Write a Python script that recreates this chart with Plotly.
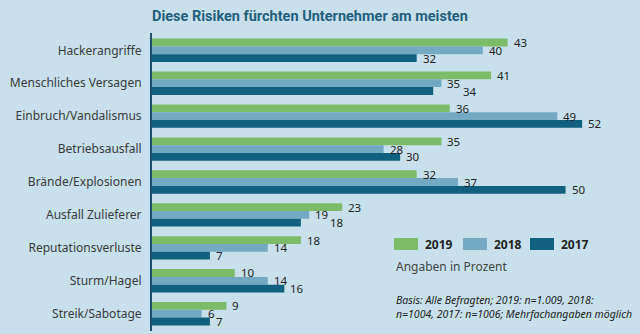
import plotly.graph_objects as go

categories = ["Hackerangriffe", "Menschliches Versagen", "Einbruch/Vandalismus",
              "Betriebsausfall", "Brände/Explosionen", "Ausfall Zulieferer",
              "Reputationsverluste", "Sturm/Hagel", "Streik/Sabotage"]
v2019 = [43, 41, 36, 35, 32, 23, 18, 10, 9]
v2018 = [40, 35, 49, 28, 37, 19, 14, 14, 6]
v2017 = [32, 34, 52, 30, 50, 18, 7, 16, 7]
years = ["2019", "2018", "2017"]
colors = ["#7cbb67", "#74a9c4", "#11607f"]

BG = "#c8e0ec"
W, H = 640, 334
ML, MR, MT, MB = 152, 0, 33, 3
XMAX = 59
PW, PH = W - ML - MR, H - MT - MB
PXU = PW / XMAX          # pixels per percent
BAR_PX = 7.8             # bar thickness in px (bargap 0.29 of 33px step)
DIGIT_W = 6.6            # approx width of one digit at label font size

fig = go.Figure()
series = [v2019, v2018, v2017]
for name, vals, col in zip(years, series, colors):
    fig.add_trace(go.Bar(
        y=categories, x=vals, name=name, orientation="h",
        marker=dict(color=col, line=dict(width=0)),
        showlegend=False, hoverinfo="x+y+name",
    ))

# value labels placed at bar ends, nudged right when they would collide
for i, cat in enumerate(categories):
    prev = None
    for k, vals in enumerate(series):
        v = vals[i]
        start = v * PXU + 4
        width = len(str(v)) * DIGIT_W
        if prev is not None:
            ps, pe = prev
            if start < pe + 2 and start + width > ps - 2:
                start = pe + 2
        fig.add_annotation(x=v, y=cat, text=str(v), showarrow=False,
                           xanchor="left", yanchor="middle",
                           xshift=start - v * PXU, yshift=(1 - k) * BAR_PX,
                           font=dict(family="Noto Sans", size=11.5, color="#222"))
        prev = (start, start + width)

fig.update_layout(
    width=W, height=H, barmode="group", bargap=0.29, bargroupgap=0,
    margin=dict(l=ML, r=MR, t=MT, b=MB),
    paper_bgcolor=BG, plot_bgcolor=BG,
    font=dict(family="Noto Sans", color="#333"),
    title=dict(text="<b>Diese Risiken fürchten Unternehmer am meisten</b>",
               x=ML/W, xanchor="left", y=1 - 16/H, yanchor="middle",
               font=dict(family="Roboto", size=14.5, color="#1f5f7f")),
    xaxis=dict(range=[0, XMAX], visible=False),
    yaxis=dict(autorange="reversed", showline=True, linecolor="#1d4f6e", linewidth=2,
               ticks="", showgrid=False, ticklabelstandoff=6,
               tickfont=dict(family="Noto Sans", size=12, color="#3a3a3a")),
)

def px(x):
    return (x - ML) / PW

def py(y):
    return (H - MB - y) / PH

# legend swatches and labels
lx = [394, 463, 530]
for name, col, x0 in zip(years, colors, lx):
    fig.add_shape(type="rect", xref="paper", yref="paper",
                  x0=px(x0), x1=px(x0 + 24), y0=py(250), y1=py(238),
                  fillcolor=col, line=dict(width=0))
    fig.add_annotation(text="<b>" + name + "</b>", xref="paper", yref="paper",
                       x=px(x0 + 29), y=py(244), xanchor="left", yanchor="middle",
                       showarrow=False, font=dict(family="Noto Sans", size=12, color="#222"))
fig.add_annotation(text="Angaben in Prozent", xref="paper", yref="paper",
                   x=px(394), y=py(266), xanchor="left", yanchor="middle",
                   showarrow=False, font=dict(family="Noto Sans", size=12, color="#444"))
fig.add_annotation(text="<i>Basis: Alle Befragten; 2019: n=1.009, 2018:<br>n=1004, 2017: n=1006; Mehrfachangaben möglich</i>",
                   xref="paper", yref="paper", align="left",
                   x=px(394), y=py(307), xanchor="left", yanchor="middle",
                   showarrow=False, font=dict(family="Noto Sans", size=10.5, color="#222"))

fig.write_html("out.html")
